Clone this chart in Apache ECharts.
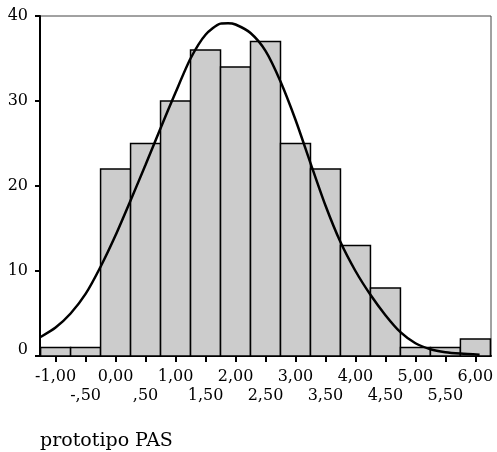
<!DOCTYPE html>
<html>
<head>
<meta charset="utf-8">
<script src="https://cdn.jsdelivr.net/npm/echarts@6/dist/echarts.min.js"></script>
<style>html,body{margin:0;padding:0;background:#fff}#c{width:497px;height:452px}</style>
</head>
<body>
<div id="c"></div>
<script>
// Histogram bin centers and counts
const binCenters = [-1.0, -0.5, 0.0, 0.5, 1.0, 1.5, 2.0, 2.5, 3.0, 3.5, 4.0, 4.5, 5.0, 5.5, 6.0];
const binCounts  = [1, 1, 22, 25, 30, 36, 34, 37, 25, 22, 13, 8, 1, 1, 2];
const binWidth = 0.5;

// Fitted normal curve
const curveX = [-1.25, -1.0, -0.75, -0.5, -0.25, 0.0, 0.25, 0.5, 0.75, 1.0, 1.25, 1.5, 1.75, 1.875, 2.0, 2.25, 2.5, 2.75, 3.0, 3.25, 3.5, 3.75, 4.0, 4.25, 4.5, 4.75, 5.0, 5.25, 5.5, 5.75, 6.07];
const curveY = [2.24, 3.35, 5.0, 7.3, 10.5, 14.2, 18.3, 22.5, 26.8, 31.0, 35.0, 37.8, 39.1, 39.15, 39.0, 38.0, 35.9, 32.3, 27.8, 22.7, 17.7, 13.4, 10.0, 7.2, 4.8, 2.8, 1.5, 0.8, 0.45, 0.28, 0.15];

// Axis ticks and labels
const xTickValues = [-1.0, -0.5, 0.0, 0.5, 1.0, 1.5, 2.0, 2.5, 3.0, 3.5, 4.0, 4.5, 5.0, 5.5, 6.0];
const xTickLabels = ['-1,00', '-,50', '0,00', ',50', '1,00', '1,50', '2,00', '2,50', '3,00', '3,50', '4,00', '4,50', '5,00', '5,50', '6,00'];
const yTickValues = [0, 10, 20, 30, 40];
const xTitle = 'prototipo PAS';

const font = 'DejaVu Serif';
const chart = echarts.init(document.getElementById('c'), null, {renderer: 'canvas'});

const wholeTicks = xTickValues.filter((v, i) => i % 2 === 0);
const halfTicks = xTickValues.filter((v, i) => i % 2 === 1);
function labelOf(v) {
  const i = xTickValues.findIndex(t => Math.abs(t - v) < 1e-6);
  return i < 0 ? '' : xTickLabels[i];
}
const baseLabel = {showMinLabel: true, showMaxLabel: true, hideOverlap: false, color: '#000', fontFamily: font, fontSize: 16, formatter: labelOf};

const option = {
  backgroundColor: '#fff',
  animation: false,
  grid: {left: 40, right: 6, top: 16, bottom: 96, show: true, borderColor: '#444', borderWidth: 1, backgroundColor: 'transparent'},
  xAxis: [{
    type: 'value', min: -1.26, max: 6.26, position: 'bottom',
    splitLine: {show: false},
    axisLine: {show: true, onZero: false, lineStyle: {color: '#000', width: 2}},
    axisTick: {show: true, length: 6, lineStyle: {color: '#000', width: 2}, customValues: xTickValues},
    axisLabel: Object.assign({customValues: wholeTicks, margin: 13}, baseLabel)
  }, {
    type: 'value', min: -1.26, max: 6.26, position: 'bottom',
    splitLine: {show: false},
    axisLine: {show: false, onZero: false},
    axisTick: {show: false},
    axisLabel: Object.assign({customValues: halfTicks, margin: 32}, baseLabel)
  }],
  yAxis: {
    type: 'value', min: 0, max: 40, interval: 10,
    splitLine: {show: false},
    axisLine: {show: true, onZero: false, lineStyle: {color: '#000', width: 2}},
    axisTick: {show: true, length: 5, lineStyle: {color: '#000', width: 2}},
    axisLabel: {
      customValues: yTickValues,
      margin: 12, color: '#000', fontFamily: font, fontSize: 16,
      formatter: function (v) { return v === 0 ? '{z|0}' : String(v); },
      rich: {z: {fontFamily: font, fontSize: 16, color: '#000', padding: [0, 0, 12, 0]}}
    }
  },
  graphic: [{
    type: 'text', left: 40, top: 432,
    style: {text: xTitle, fontFamily: font, fontSize: 19, fill: '#000'}
  }],
  series: [
    {
      type: 'custom', xAxisIndex: 0,
      data: binCenters.map((c, i) => [c, binCounts[i]]),
      renderItem: function (params, api) {
        const c = api.value(0), v = api.value(1);
        const p0 = api.coord([c - binWidth / 2, v]);
        const p1 = api.coord([c + binWidth / 2, 0]);
        return {
          type: 'rect',
          shape: {x: p0[0], y: p0[1], width: p1[0] - p0[0], height: p1[1] - p0[1]},
          style: {fill: '#cccccc', stroke: '#000', lineWidth: 1.5}
        };
      },
      z: 2
    },
    {
      type: 'line', xAxisIndex: 0,
      data: curveX.map((x, i) => [x, curveY[i]]),
      smooth: 0.25, symbol: 'none',
      lineStyle: {color: '#000', width: 2.5},
      z: 3
    }
  ]
};
chart.setOption(option);
</script>
</body>
</html>
